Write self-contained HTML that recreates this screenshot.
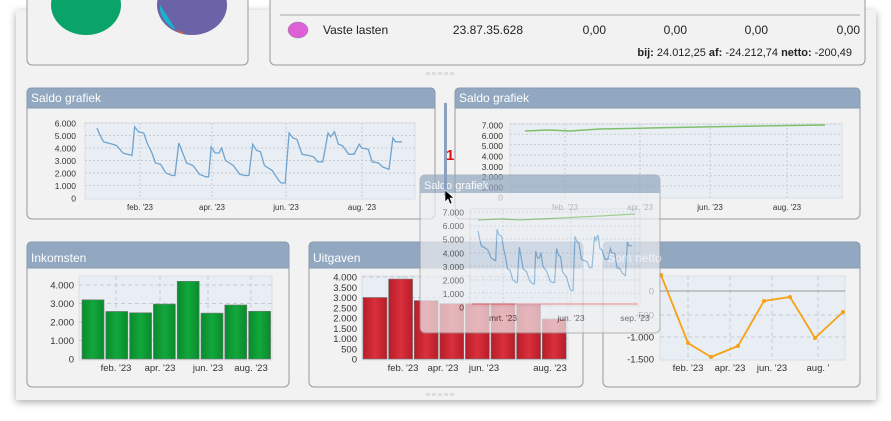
<!DOCTYPE html>
<html><head><meta charset="utf-8"><style>
body{margin:0;width:891px;height:416px;background:#fff;overflow:hidden;font-family:"Liberation Sans",sans-serif}
svg text{font-family:"Liberation Sans",sans-serif}
</style></head><body>
<svg id="s" width="891" height="416" xmlns="http://www.w3.org/2000/svg">
<defs>
<filter id="sh" x="-5%" y="-5%" width="110%" height="115%"><feDropShadow dx="0" dy="2" stdDeviation="4" flood-opacity="0.35"/></filter>
<linearGradient id="gg" x1="0" x2="1"><stop offset="0" stop-color="#0a8a2c"/><stop offset=".5" stop-color="#12a83c"/><stop offset="1" stop-color="#0a8a2c"/></linearGradient>
<linearGradient id="rg" x1="0" x2="1"><stop offset="0" stop-color="#b81c28"/><stop offset=".5" stop-color="#d9303c"/><stop offset="1" stop-color="#b81c28"/></linearGradient>
</defs>
<rect x="16" y="10" width="860" height="390" fill="#f2f2f2" filter="url(#sh)"/>
<rect x="27" y="-10" width="221" height="75" rx="5" fill="#f2f2f2" stroke="#9a9a9a"/>
<ellipse cx="86" cy="5" rx="35" ry="30" fill="#0aa36a"/>
<ellipse cx="192" cy="5" rx="35" ry="30" fill="#6a63a8"/>
<path d="M160 5 L176 30 A35 30 0 0 1 160 10Z" fill="#17b6d0"/>
<path d="M176 30 L180 33 L185 33 Z" fill="#f06010"/>
<rect x="270" y="-10" width="595" height="75" rx="5" fill="#f2f2f2" stroke="#9a9a9a"/>
<line x1="280" y1="15" x2="860" y2="15" stroke="#ccc" stroke-width="2"/>
<ellipse cx="298" cy="30" rx="10" ry="8" fill="#de5fd8" stroke="#888" stroke-width=".5"/>
<g font-size="12" fill="#222">
<text x="323" y="34">Vaste lasten</text>
<text x="523" y="34" text-anchor="end">23.87.35.628</text>
<text x="606" y="34" text-anchor="end">0,00</text>
<text x="687" y="34" text-anchor="end">0,00</text>
<text x="768" y="34" text-anchor="end">0,00</text>
<text x="860" y="34" text-anchor="end">0,00</text>
</g>
<text x="852" y="56" text-anchor="end" font-size="11" fill="#222"><tspan font-weight="bold">bij:</tspan> 24.012,25  <tspan font-weight="bold">af:</tspan> -24.212,74  <tspan font-weight="bold">netto:</tspan> -200,49</text>
<g fill="#ddd"><rect x="426" y="72" width="4" height="3"/><rect x="432" y="72" width="4" height="3"/><rect x="438" y="72" width="4" height="3"/><rect x="444" y="72" width="4" height="3"/><rect x="450" y="72" width="4" height="3"/></g>
<g fill="#ddd"><rect x="426" y="393" width="4" height="3"/><rect x="432" y="393" width="4" height="3"/><rect x="438" y="393" width="4" height="3"/><rect x="444" y="393" width="4" height="3"/><rect x="450" y="393" width="4" height="3"/></g>
<g id="panels"></g>
<g id="overlay" opacity="0.7"></g>
<rect x="444" y="103" width="3" height="93" fill="#8aa0bd"/>
<text x="446" y="160" font-size="15" font-weight="bold" fill="#e01010">1</text>
<path d="M445 190 L445 202 L448 199 L450 204 L452 203 L450 198 L454 198 Z" fill="#000" stroke="#fff" stroke-width=".6"/>
</svg>
<script>
const NS="http://www.w3.org/2000/svg";
function el(p,t,a,txt){const e=document.createElementNS(NS,t);for(const k in a)e.setAttribute(k,a[k]);if(txt!==undefined)e.textContent=txt;p.appendChild(e);return e;}
const P=document.getElementById('panels'),O=document.getElementById('overlay');
function panel(g,x,y,w,h,title,hh){
 el(g,'rect',{x,y,width:w,height:h,rx:5,fill:'#f2f2f2',stroke:'#999'});
 el(g,'path',{d:`M${x} ${y+hh} V${y+5} Q${x} ${y} ${x+5} ${y} H${x+w-5} Q${x+w} ${y} ${x+w} ${y+5} V${y+hh}Z`,fill:'#92a7c0',stroke:'#8a9ab0'});
 el(g,'text',{x:x+4,y:y+hh-6,'font-size':12,fill:'#fff'},title);
}
function plotbg(g,x1,y1,x2,y2,gx,gy,dash){
 el(g,'rect',{x:x1,y:y1,width:x2-x1,height:y2-y1,fill:'#e9eef5',stroke:'#d8dde5'});
 gx.forEach(v=>el(g,'line',{x1:v,x2:v,y1:y1,y2:y2,stroke:'#c8ccd2','stroke-dasharray':dash||'2,2'}));
 gy.forEach(v=>el(g,'line',{x1:x1,x2:x2,y1:v,y2:v,stroke:'#c8ccd2','stroke-dasharray':dash||'2,2'}));
}
function ylab(g,x,ys,labs,fs){ys.forEach((y,i)=>el(g,'text',{x,y:y+3.5,'font-size':fs||9,'text-anchor':'end',fill:'#333'},labs[i]));}
function xlab(g,y,xs,labs,fs){xs.forEach((x,i)=>el(g,'text',{x,y,'font-size':fs||9,'text-anchor':'middle',fill:'#333'},labs[i]));}
const raw=[[98,5.6],[100,5.1],[103,4.5],[110,4.3],[113,4.2],[118,3.6],[125,3.4],[127,5.7],[130,5.3],[134,5.2],[137,4.3],[140,3.7],[143,2.8],[147,2.7],[151,2.0],[156,1.8],[158,1.8],[161,4.4],[164,3.6],[167,2.8],[172,2.6],[177,1.9],[182,1.7],[184,1.7],[186,4.1],[189,3.6],[192,3.6],[194,4.0],[197,3.0],[203,2.6],[208,1.9],[212,1.8],[215,1.8],[218,4.3],[221,3.8],[224,3.7],[227,2.6],[233,2.2],[238,1.4],[240,1.2],[243,1.2],[246,5.2],[249,4.8],[252,4.7],[256,3.5],[261,3.4],[265,3.3],[268,2.9],[272,2.9],[276,5.2],[278,4.9],[281,5.3],[284,4.3],[287,4.2],[292,3.5],[296,3.5],[300,4.3],[302,4.0],[307,3.9],[310,2.9],[315,2.8],[318,2.5],[323,2.3],[326,4.8],[328,4.5],[333,4.5]];
function saw(x0,x1,y0,k){return raw.map(p=>[(x0+(p[0]-98)/(235)*(x1-x0)).toFixed(1),(y0-p[1]*k).toFixed(1)].join(',')).join(' ');}
panel(P,27,88,408,131,'Saldo grafiek',20);
plotbg(P,85,123,415,199,[140,212,286,362],[123,135.5,148,160.5,173,185.5]);
ylab(P,76,[123,135.5,148,160.5,173,185.5,198],['6.000','5.000','4.000','3.000','2.000','1.000','0'],8.5);
xlab(P,210,[140,212,286,362],["feb. '23","apr. '23","jun. '23","aug. '23"],8);
el(P,'polyline',{points:saw(97,402,198,12.5),fill:'none',stroke:'#6fa4cf','stroke-width':1.3});
panel(P,455,88,405,131,'Saldo grafiek',20);
plotbg(P,510,124,842,198,[565,640,710,787],[124,134.3,144.6,155,165.3,175.6,186]);
ylab(P,503,[125,135.3,145.6,156,166.3,176.6,187,197],['7.000','6.000','5.000','4.000','3.000','2.000','1.000','0'],8.5);
xlab(P,210,[565,640,710,787],["feb. '23","apr. '23","jun. '23","aug. '23"],8);
el(P,'polyline',{points:'525,131 548,130 570,131 600,129 650,128 700,127 760,126 825,125',fill:'none',stroke:'#7fbf6a','stroke-width':1.4});
panel(P,27,242,262,145,'Inkomsten',26);
plotbg(P,79,276,272,360,[116,160,208,251],[285,303.5,322,340.5],'4,3');
ylab(P,74,[285,303.5,322,340.5,359],['4.000','3.000','2.000','1.000','0'],9.5);
xlab(P,371,[116,160,208,251],["feb. '23","apr. '23","jun. '23","aug. '23"],9.5);
[3200,2570,2500,2970,4200,2480,2920,2580].forEach((v,i)=>{const h=v*0.0185;el(P,'rect',{x:82+i*23.8,y:359-h,width:22,height:h,fill:'url(#gg)',stroke:'#777','stroke-width':.6});});
panel(P,309,242,274,145,'Uitgaven',26);
plotbg(P,362,276,568,360,[403,443,484,550],[277,297.5,318,338.5],'4,3');
ylab(P,357,[277,287.25,297.5,307.75,318,328.25,338.5,348.75,359],['4.000','3.500','3.000','2.500','2.000','1.500','1.000','500','0'],9.5);
xlab(P,371,[403,443,484,550],["feb. '23","apr. '23","jun. '23","aug. '23"],9.5);
[3000,3900,2850,2700,2700,2700,2650,1950].forEach((v,i)=>{const h=v*0.0205;el(P,'rect',{x:363+i*25.6,y:359-h,width:24,height:h,fill:'url(#rg)',stroke:'#777','stroke-width':.6});});
panel(P,603,242,257,145,'Som netto',26);
plotbg(P,660,276,845,360,[688,730,772,818],[315,337],'4,3');
el(P,'line',{x1:660,x2:845,y1:291,y2:291,stroke:'#999'});
ylab(P,654,[291,315,337,359],['0','-500','-1.000','-1.500'],9.5);
xlab(P,371,[688,730,772,818],["feb. '23","apr. '23","jun. '23","aug. '"],9.5);
const np=[[661,275],[688,343],[711,357],[738,346],[764,301],[790,297],[815,338],[843,312]];
el(P,'polyline',{points:np.map(p=>p.join(',')).join(' '),fill:'none',stroke:'#f5a214','stroke-width':1.8});
np.forEach(p=>el(P,'circle',{cx:p[0],cy:p[1],r:2,fill:'#f5a214'}));
el(O,'rect',{x:420,y:175,width:240,height:158,rx:5,fill:'#eceef1',stroke:'#999'});
el(O,'path',{d:'M420 193 V180 Q420 175 425 175 H655 Q660 175 660 180 V193Z',fill:'#92a7c0'});
el(O,'text',{x:424,y:189,'font-size':11,fill:'#fff'},'Saldo grafiek');
plotbg(O,470,209,640,306,[503,571,635],[212,226,239,253,266,280,293]);
ylab(O,464,[212,225.6,239.2,252.8,266.4,280,293.6,307],['7.000','6.000','5.000','4.000','3.000','2.000','1.000','0'],8.5);
xlab(O,321,[503,571,635],["mrt. '23","jun. '23","sep. '23"],8.5);
el(O,'line',{x1:472,x2:638,y1:304,y2:304,stroke:'#e88','stroke-width':1.5});
el(O,'polyline',{points:'478,220 500,219 520,220 560,218 600,216 635,214',fill:'none',stroke:'#7fbf6a','stroke-width':1.3});
el(O,'polyline',{points:saw(478,632,307,13.6),fill:'none',stroke:'#6fa4cf','stroke-width':1.2});
</script>
</body></html>
